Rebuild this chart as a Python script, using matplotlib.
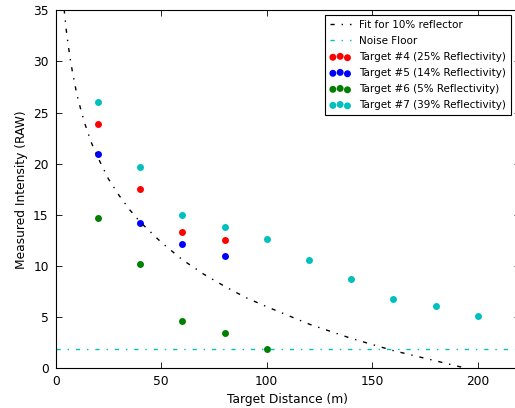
import matplotlib as mpl
mpl.use('Agg')
import matplotlib.pyplot as plt

# measured intensities vs target distance
dist4 = [20, 40, 60, 80]
raw4 = [23.9, 17.5, 13.3, 12.5]
dist5 = [20, 40, 60, 80]
raw5 = [20.9, 14.15, 12.1, 11.0]
dist6 = [20, 40, 60, 80, 100]
raw6 = [14.7, 10.2, 4.6, 3.45, 1.9]
dist7 = [20, 40, 60, 80, 100, 120, 140, 160, 180, 200]
raw7 = [26.0, 19.7, 15.0, 13.8, 12.6, 10.6, 8.7, 6.75, 6.1, 5.05]

# fit curve for 10% reflector
fit_x = [4, 5, 6, 7, 8, 10, 12, 14, 17, 20, 25, 30, 35, 40, 50, 60, 70,
         80, 90, 100, 120, 140, 160, 180, 200]
fit_y = [35.1, 33.1, 31.5, 30.1, 28.9, 26.8, 25.2, 23.8, 22.0, 20.6, 18.5,
         16.9, 15.5, 14.3, 12.3, 10.6, 9.2, 8.0, 6.9, 6.0, 4.3, 2.9, 1.7,
         0.7, -0.3]

noise_floor = 1.9

plt.rcParams['font.family'] = 'DejaVu Sans'
plt.rcParams['xtick.direction'] = 'in'
plt.rcParams['ytick.direction'] = 'in'
plt.rcParams['xtick.top'] = True
plt.rcParams['ytick.right'] = True
plt.rcParams['xtick.major.size'] = 4
plt.rcParams['ytick.major.size'] = 4
plt.rcParams['xtick.major.pad'] = 5
plt.rcParams['ytick.major.pad'] = 5

F = plt.figure(figsize=(5.15, 4.08), dpi=100)
ax = F.add_axes([55.7/515, 40/408, 464.3/515, 357.6/408])

ax.plot(fit_x, fit_y, color='k', linestyle=(0, (3, 5, 1, 5)), linewidth=1,
        label='Fit for 10% reflector')
ax.axhline(noise_floor, color='c', linestyle=(0, (3, 5, 1, 5)), linewidth=1,
           label='Noise Floor')

ax.scatter(dist4, raw4, s=25, c='r', linewidths=0, label='Target #4 (25% Reflectivity)')
ax.scatter(dist5, raw5, s=25, c='b', linewidths=0, label='Target #5 (14% Reflectivity)')
ax.scatter(dist6, raw6, s=25, c='g', linewidths=0, label='Target #6 (5% Reflectivity)')
ax.scatter(dist7, raw7, s=25, c='c', linewidths=0, label='Target #7 (39% Reflectivity)')

ax.set_xlim(0, 220)
ax.set_ylim(0, 35)
ax.set_xticks([0, 50, 100, 150, 200])
ax.set_yticks([0, 5, 10, 15, 20, 25, 30, 35])
ax.tick_params(labelsize=8.8, width=0.6)
ax.set_xlabel('Target Distance (m)', fontsize=8.8)
ax.set_ylabel('Measured Intensity (RAW)', fontsize=8.8)

leg = ax.legend(loc='upper right', bbox_to_anchor=(1 - 9/464.3, 1 - 4.3/357.6),
                borderaxespad=0, fontsize=7.5, scatterpoints=3,
                scatteryoffsets=[0.375, 0.5, 0.3125], fancybox=False,
                handlelength=2, labelspacing=0.58, borderpad=0.5,
                edgecolor='k', framealpha=1)
leg.get_frame().set_linewidth(0.8)

plt.savefig('out.png', dpi=100)
